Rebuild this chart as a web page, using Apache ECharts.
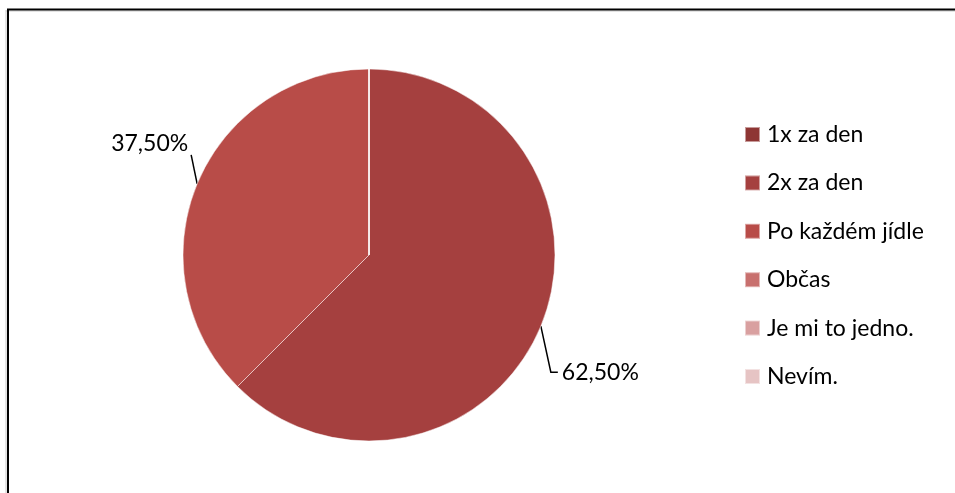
<!DOCTYPE html>
<html>
<head>
<meta charset="utf-8">
<script src="https://cdn.jsdelivr.net/npm/echarts@6/dist/echarts.min.js"></script>
<style>
html,body{margin:0;padding:0;background:#fff;}
#container{width:955px;height:493px;}
</style>
</head>
<body>
<div id="container"></div>
<script>
// kategorie a hodnoty (procenta)
var categories = ['1x za den', '2x za den', 'Po každém jídle', 'Občas', 'Je mi to jedno.', 'Nevím.'];
var values = [0, 62.5, 37.5, 0, 0, 0];
var colors = ['#8E3634', '#A5403F', '#B84C48', '#C8706E', '#D9A0A0', '#E6C4C4'];

var cx = 369, cy = 255;

var myChart = echarts.init(document.getElementById('container'));

var pieData = categories.map(function (name, i) {
    var item = { name: name, value: values[i], itemStyle: { color: colors[i] } };
    if (!values[i]) {
        item.label = { show: false };
        item.labelLine = { show: false };
    }
    return item;
});

var option = {
    animation: false,
    textStyle: { fontFamily: 'Lato' },
    graphic: [
        { type: 'line', shape: { x1: 6, y1: 11, x2: 955, y2: 11 }, style: { stroke: '#c8c8c8', lineWidth: 1 } },
        { type: 'line', shape: { x1: 6, y1: 10, x2: 6, y2: 493 }, style: { stroke: '#c8c8c8', lineWidth: 1 } },
        { type: 'line', shape: { x1: 7, y1: 9.5, x2: 955, y2: 9.5 }, style: { stroke: '#000', lineWidth: 2 } },
        { type: 'line', shape: { x1: 8, y1: 9, x2: 8, y2: 493 }, style: { stroke: '#000', lineWidth: 2 } }
    ],
    legend: {
        orient: 'vertical',
        left: 744,
        top: 123,
        padding: 0,
        itemWidth: 15,
        itemHeight: 15,
        itemGap: 25.4,
        icon: 'rect',
        data: categories,
        textStyle: { fontSize: 23, color: '#000', lineHeight: 23, padding: [0, 0, 0, 2] }
    },
    series: [{
        type: 'pie',
        center: [cx, cy],
        radius: 186,
        startAngle: 90,
        clockwise: true,
        itemStyle: { borderColor: 'rgba(255,255,255,0.5)', borderWidth: 1 },
        label: {
            show: true,
            fontSize: 23,
            color: '#000',
            formatter: function (p) { return p.value.toFixed(2).replace('.', ',') + '%'; }
        },
        labelLine: { show: true, lineStyle: { color: '#000', width: 1.5 } },
        labelLayout: function (params) {
            var p = params.labelLinePoints;
            if (!p) return {};
            var a = p[0];
            if (a[0] > cx) {
                var b = [a[0] + 10, a[1] + 46];
                var c = [b[0] + 7, b[1]];
                return { x: c[0] + 4, y: c[1], align: 'left', verticalAlign: 'middle', labelLinePoints: [a, b, c] };
            } else {
                var b2 = [a[0] - 6, a[1] - 29];
                return { x: b2[0] - 3, y: b2[1] - 11, align: 'right', verticalAlign: 'middle', labelLinePoints: [a, b2] };
            }
        },
        data: pieData
    }]
};
myChart.setOption(option);
</script>
</body>
</html>
